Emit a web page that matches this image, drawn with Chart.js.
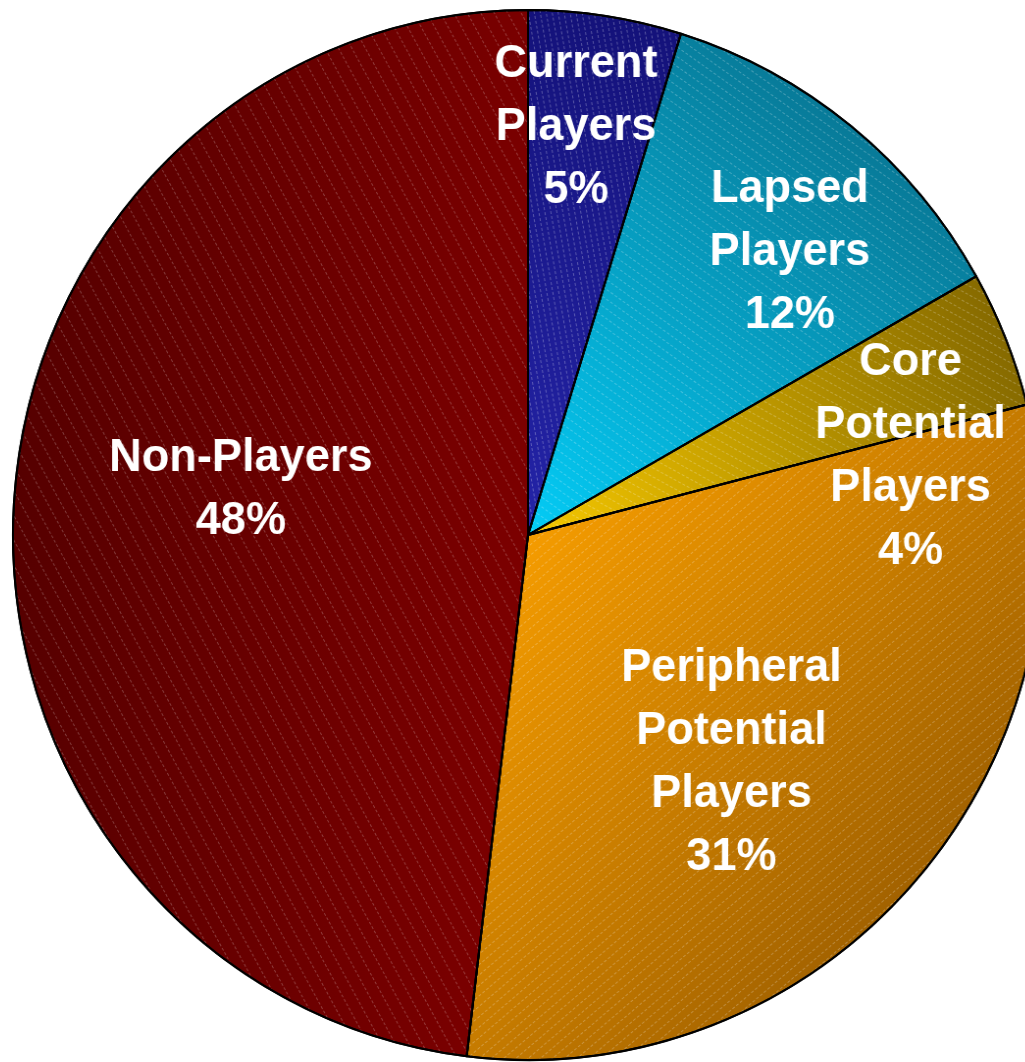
<!DOCTYPE html>
<html>
<head>
<meta charset="utf-8">
<script src="https://cdn.jsdelivr.net/npm/chart.js@4/dist/chart.umd.min.js"></script>
<style>
  html, body { margin: 0; padding: 0; background: #fff; overflow: hidden; }
  #wrap { position: absolute; left: 0; top: 0; width: 1056px; height: 1070px;
          transform: scaleX(0.981); transform-origin: 528px 535px; }
</style>
</head>
<body>
<div id="wrap"><canvas id="pie" width="1056" height="1070"></canvas></div>
<script>
// data
const categories = [
  ['Current', 'Players'],
  ['Lapsed', 'Players'],
  ['Core', 'Potential', 'Players'],
  ['Peripheral', 'Potential', 'Players'],
  ['Non-Players']
];
const shares = [4.8, 12.0, 4.2, 30.9, 48.1];

// styling: inner / outer gradient stops, hatch settings, label placement
const innerColors = ['#2424a8', '#04ccf6', '#f6c800', '#f59c00', '#7c0000'];
const outerColors = ['#14127a', '#087a98', '#866a00', '#a26200', '#560000'];
const hatch = [
  { angle: 80, gap: 6, alpha: 0.28 },
  { angle: 35, gap: 8, alpha: 0.25 },
  { angle: 28, gap: 8, alpha: 0.25 },
  { angle: -40, gap: 8, alpha: 0.25 },
  { angle: 61, gap: 12, alpha: 0.24 }
];
const labelPlace = [
  { dAngle: -2.0, f: 0.79 },
  { dAngle: 3.5, f: 0.74 },
  { dAngle: 9.9, f: 0.745 },
  { dAngle: 6.5, f: 0.576 },
  { dAngle: 6.3, f: 0.555 }
];
const squeeze = 0.981;

const total = shares.reduce((a, b) => a + b, 0);

function midAngle(i) {
  let before = 0;
  for (let k = 0; k < i; k++) before += shares[k];
  return ((before + shares[i] / 2) / total) * 2 * Math.PI; // clockwise from top
}

function sliceGradient(context) {
  const chart = context.chart;
  const area = chart.chartArea;
  const i = context.dataIndex;
  if (!area) return innerColors[i];
  const cx = (area.left + area.right) / 2;
  const cy = (area.top + area.bottom) / 2;
  const r = Math.min(area.right - area.left, area.bottom - area.top) / 2;
  const a = midAngle(i);
  const g = chart.ctx.createLinearGradient(cx, cy, cx + r * Math.sin(a), cy - r * Math.cos(a));
  g.addColorStop(0, innerColors[i]);
  g.addColorStop(1, outerColors[i]);
  return g;
}

const hatchPlugin = {
  id: 'hatch',
  afterDatasetsDraw(chart) {
    const ctx = chart.ctx;
    const meta = chart.getDatasetMeta(0);
    meta.data.forEach((arc, i) => {
      const { x, y, startAngle, endAngle, outerRadius } = arc;
      ctx.save();
      ctx.beginPath();
      ctx.moveTo(x, y);
      ctx.arc(x, y, outerRadius, startAngle, endAngle);
      ctx.closePath();
      ctx.clip();
      const h = hatch[i];
      ctx.translate(x, y);
      ctx.rotate(h.angle * Math.PI / 180);
      ctx.strokeStyle = 'rgba(255,255,255,' + h.alpha + ')';
      ctx.lineWidth = 1;
      ctx.setLineDash([3, 2]);
      const R = outerRadius + 10;
      for (let d = -R; d <= R; d += h.gap) {
        ctx.beginPath();
        ctx.moveTo(-R, d);
        ctx.lineTo(R, d);
        ctx.stroke();
      }
      ctx.restore();
      // restroke the edge
      ctx.save();
      ctx.beginPath();
      ctx.moveTo(x, y);
      ctx.arc(x, y, outerRadius, startAngle, endAngle);
      ctx.closePath();
      ctx.strokeStyle = '#000';
      ctx.lineWidth = 2;
      ctx.lineJoin = 'round';
      ctx.stroke();
      ctx.restore();
    });
  }
};

const labelPlugin = {
  id: 'sliceLabels',
  afterDatasetsDraw(chart) {
    const ctx = chart.ctx;
    const meta = chart.getDatasetMeta(0);
    ctx.save();
    ctx.font = 'bold 46px "Liberation Sans", Arial, sans-serif';
    ctx.fillStyle = '#fff';
    ctx.textAlign = 'center';
    ctx.textBaseline = 'middle';
    const lineH = 63;
    meta.data.forEach((arc, i) => {
      const a = midAngle(i) + labelPlace[i].dAngle * Math.PI / 180;
      const d = arc.outerRadius * labelPlace[i].f;
      // undo the horizontal squeeze for label placement
      const lx = arc.x + d * Math.sin(a) / squeeze;
      const ly = arc.y - d * Math.cos(a) + 4;
      const lines = categories[i].concat([Math.round(shares[i]) + '%']);
      const top = ly - (lines.length - 1) * lineH / 2;
      lines.forEach((t, k) => ctx.fillText(t, lx, top + k * lineH));
    });
    ctx.restore();
  }
};

new Chart(document.getElementById('pie'), {
  type: 'pie',
  data: {
    labels: categories.map(c => c.join(' ')),
    datasets: [{
      data: shares,
      backgroundColor: sliceGradient,
      borderColor: '#000',
      borderWidth: 2
    }]
  },
  options: {
    responsive: false,
    animation: false,
    devicePixelRatio: 1,
    layout: { padding: 2 },
    plugins: {
      legend: { display: false },
      tooltip: { enabled: false }
    }
  },
  plugins: [hatchPlugin, labelPlugin]
});
</script>
</body>
</html>
